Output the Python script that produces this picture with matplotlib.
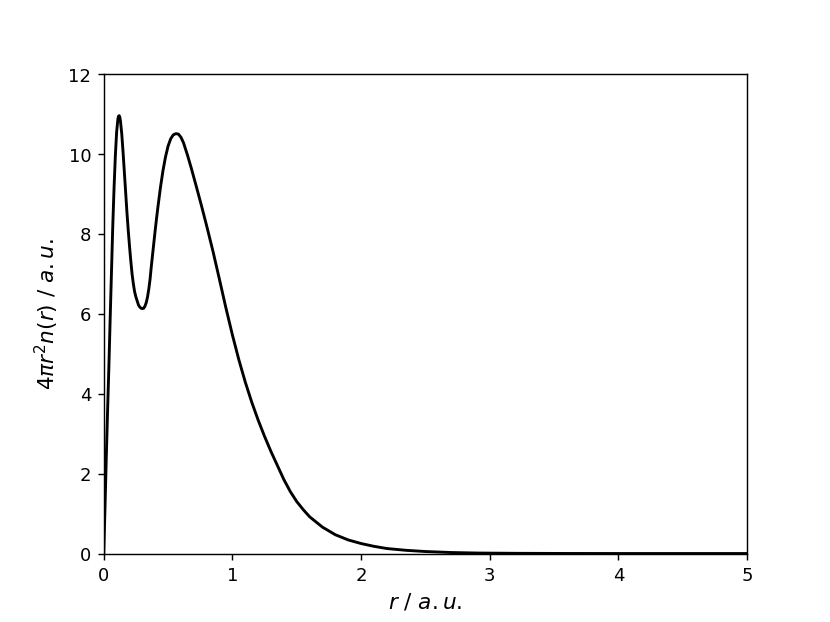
import matplotlib
matplotlib.use('Agg')
import matplotlib.pyplot as plt

# radial distance (a.u.) and radial density
r = [0.0, 0.01, 0.02, 0.03, 0.04, 0.05, 0.06, 0.07, 0.08, 0.09,
     0.10, 0.11, 0.115, 0.12, 0.125, 0.13, 0.14, 0.15, 0.16, 0.17,
     0.18, 0.19, 0.20, 0.21, 0.22, 0.23, 0.24, 0.25, 0.26, 0.27,
     0.28, 0.29, 0.30, 0.31, 0.32, 0.33, 0.34, 0.35, 0.36, 0.37,
     0.38, 0.39, 0.40, 0.41, 0.42, 0.44, 0.46, 0.48, 0.50, 0.52,
     0.54, 0.56, 0.58, 0.60, 0.62, 0.65, 0.68, 0.72, 0.76, 0.80,
     0.85, 0.90, 0.95, 1.00, 1.05, 1.10, 1.15, 1.20, 1.25, 1.30,
     1.35, 1.40, 1.45, 1.50, 1.55, 1.60, 1.70, 1.80, 1.90, 2.00,
     2.10, 2.20, 2.35, 2.50, 2.70, 2.90, 3.20, 3.60, 4.00, 4.50,
     5.00]
density = [0.0, 1.2, 2.45, 3.6, 4.7, 5.9, 7.05, 8.2, 9.15, 9.95,
           10.55, 10.88, 10.95, 10.96, 10.92, 10.82, 10.5, 10.05, 9.55, 9.05,
           8.55, 8.1, 7.7, 7.33, 7.0, 6.75, 6.55, 6.42, 6.32, 6.22,
           6.17, 6.14, 6.13, 6.14, 6.19, 6.28, 6.42, 6.62, 6.87, 7.2,
           7.5, 7.8, 8.1, 8.38, 8.65, 9.15, 9.58, 9.93, 10.2, 10.38,
           10.48, 10.51, 10.5, 10.42, 10.28, 9.98, 9.65, 9.18, 8.7, 8.2,
           7.55, 6.85, 6.14, 5.47, 4.85, 4.29, 3.79, 3.34, 2.93, 2.55,
           2.2, 1.85, 1.55, 1.3, 1.1, 0.92, 0.66, 0.47, 0.34, 0.25,
           0.18, 0.125, 0.08, 0.05, 0.025, 0.012, 0.005, 0.001, 0.0, 0.0,
           0.0]

fig, ax = plt.subplots(figsize=(6.4, 4.8), dpi=129.7)
ax.plot(r, density, color='black', linewidth=1.6)

ax.set_xlim(0, 5)
ax.set_ylim(0, 12)
ax.set_xlabel(r'$r$ / $a.u.$', fontsize=12)
ax.set_ylabel(r'$4\pi r^2 n(r)$ / $a.u.$', fontsize=12)

fig.savefig('out.png', dpi=129.7)
